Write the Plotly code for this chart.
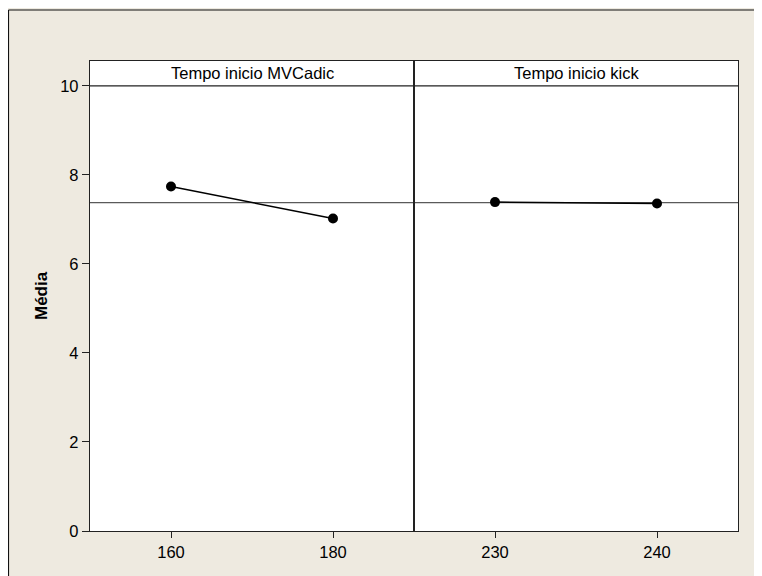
import plotly.graph_objects as go

# Data
factor_names = ["Tempo inicio MVCadic", "Tempo inicio kick"]
levels_mvcadic = [160, 180]
means_mvcadic = [7.74, 7.02]
levels_kick = [230, 240]
means_kick = [7.39, 7.36]
grand_mean = 7.38
y_ticks = [0, 2, 4, 6, 8, 10]
y_axis_title = "Média"

FONT = "Liberation Sans, Arial, sans-serif"
FS = 16.5
BEIGE = "#EEEAE0"
LINE = "#222222"

fig = go.Figure()

fig.add_trace(go.Scatter(
    x=levels_mvcadic, y=means_mvcadic, mode="lines+markers",
    line=dict(color="black", width=1.5),
    marker=dict(color="black", size=10),
    xaxis="x", yaxis="y", showlegend=False, hoverinfo="x+y"))
fig.add_trace(go.Scatter(
    x=levels_kick, y=means_kick, mode="lines+markers",
    line=dict(color="black", width=1.5),
    marker=dict(color="black", size=10),
    xaxis="x2", yaxis="y2", showlegend=False, hoverinfo="x+y"))

ytop = 10.56
yaxis_common = dict(range=[0, ytop], showgrid=False, zeroline=False,
                    showline=True, linecolor=LINE, linewidth=1.3, mirror=True)

fig.update_layout(
    width=762, height=576,
    margin=dict(l=82, r=32, t=53, b=53),
    paper_bgcolor=BEIGE, plot_bgcolor="white",
    font=dict(family=FONT, size=FS, color="black"),
    xaxis=dict(domain=[0, 0.5], range=[150, 190], tickvals=levels_mvcadic,
               ticks="outside", ticklen=6, tickcolor=LINE,
               showgrid=False, zeroline=False, showline=True,
               linecolor=LINE, linewidth=1.3, mirror=True,
               tickfont=dict(family=FONT, size=FS)),
    xaxis2=dict(domain=[0.5, 1], range=[225, 245], tickvals=levels_kick,
                ticks="outside", ticklen=6, tickcolor=LINE,
                showgrid=False, zeroline=False, showline=True,
                linecolor=LINE, linewidth=1.3, mirror=True,
                tickfont=dict(family=FONT, size=FS), anchor="y2"),
    yaxis=dict(**yaxis_common, tickvals=y_ticks, ticks="outside", ticklen=7,
               tickcolor=LINE, tickfont=dict(family=FONT, size=FS)),
    yaxis2=dict(**yaxis_common, anchor="x2", showticklabels=False, ticks=""),
)

# grand mean reference lines and strip separators
for xr, x0, x1 in [("x", 150, 190), ("x2", 225, 245)]:
    fig.add_shape(type="line", xref=xr, yref="y", x0=x0, x1=x1,
                  y0=grand_mean, y1=grand_mean,
                  line=dict(color="#5a5a5a", width=1.2), layer="below")
    fig.add_shape(type="line", xref=xr, yref="y", x0=x0, x1=x1,
                  y0=10, y1=10, line=dict(color=LINE, width=1.3))

# strip titles
for i, name in enumerate(factor_names):
    fig.add_annotation(text=name, xref="paper", yref="y",
                       x=0.25 + 0.5 * i, y=(10 + ytop) / 2,
                       showarrow=False, xanchor="center", yanchor="middle",
                       font=dict(family=FONT, size=FS))

# y axis title
fig.add_annotation(text="<b>" + y_axis_title + "</b>", xref="paper", yref="paper",
                   x=-0.0756, y=0.5, textangle=-90, showarrow=False,
                   xanchor="center", yanchor="middle",
                   font=dict(family=FONT, size=17))

# outer frame (top and left border)
fig.add_shape(type="line", xref="paper", yref="paper",
              x0=-0.1258, x1=1.1, y0=1.1085, y1=1.1085,
              line=dict(color="#111111", width=1.2))
fig.add_shape(type="line", xref="paper", yref="paper",
              x0=-0.1258, x1=-0.1258, y0=-0.2, y1=1.1085,
              line=dict(color="#111111", width=1.2))

fig.write_html("out.html")
